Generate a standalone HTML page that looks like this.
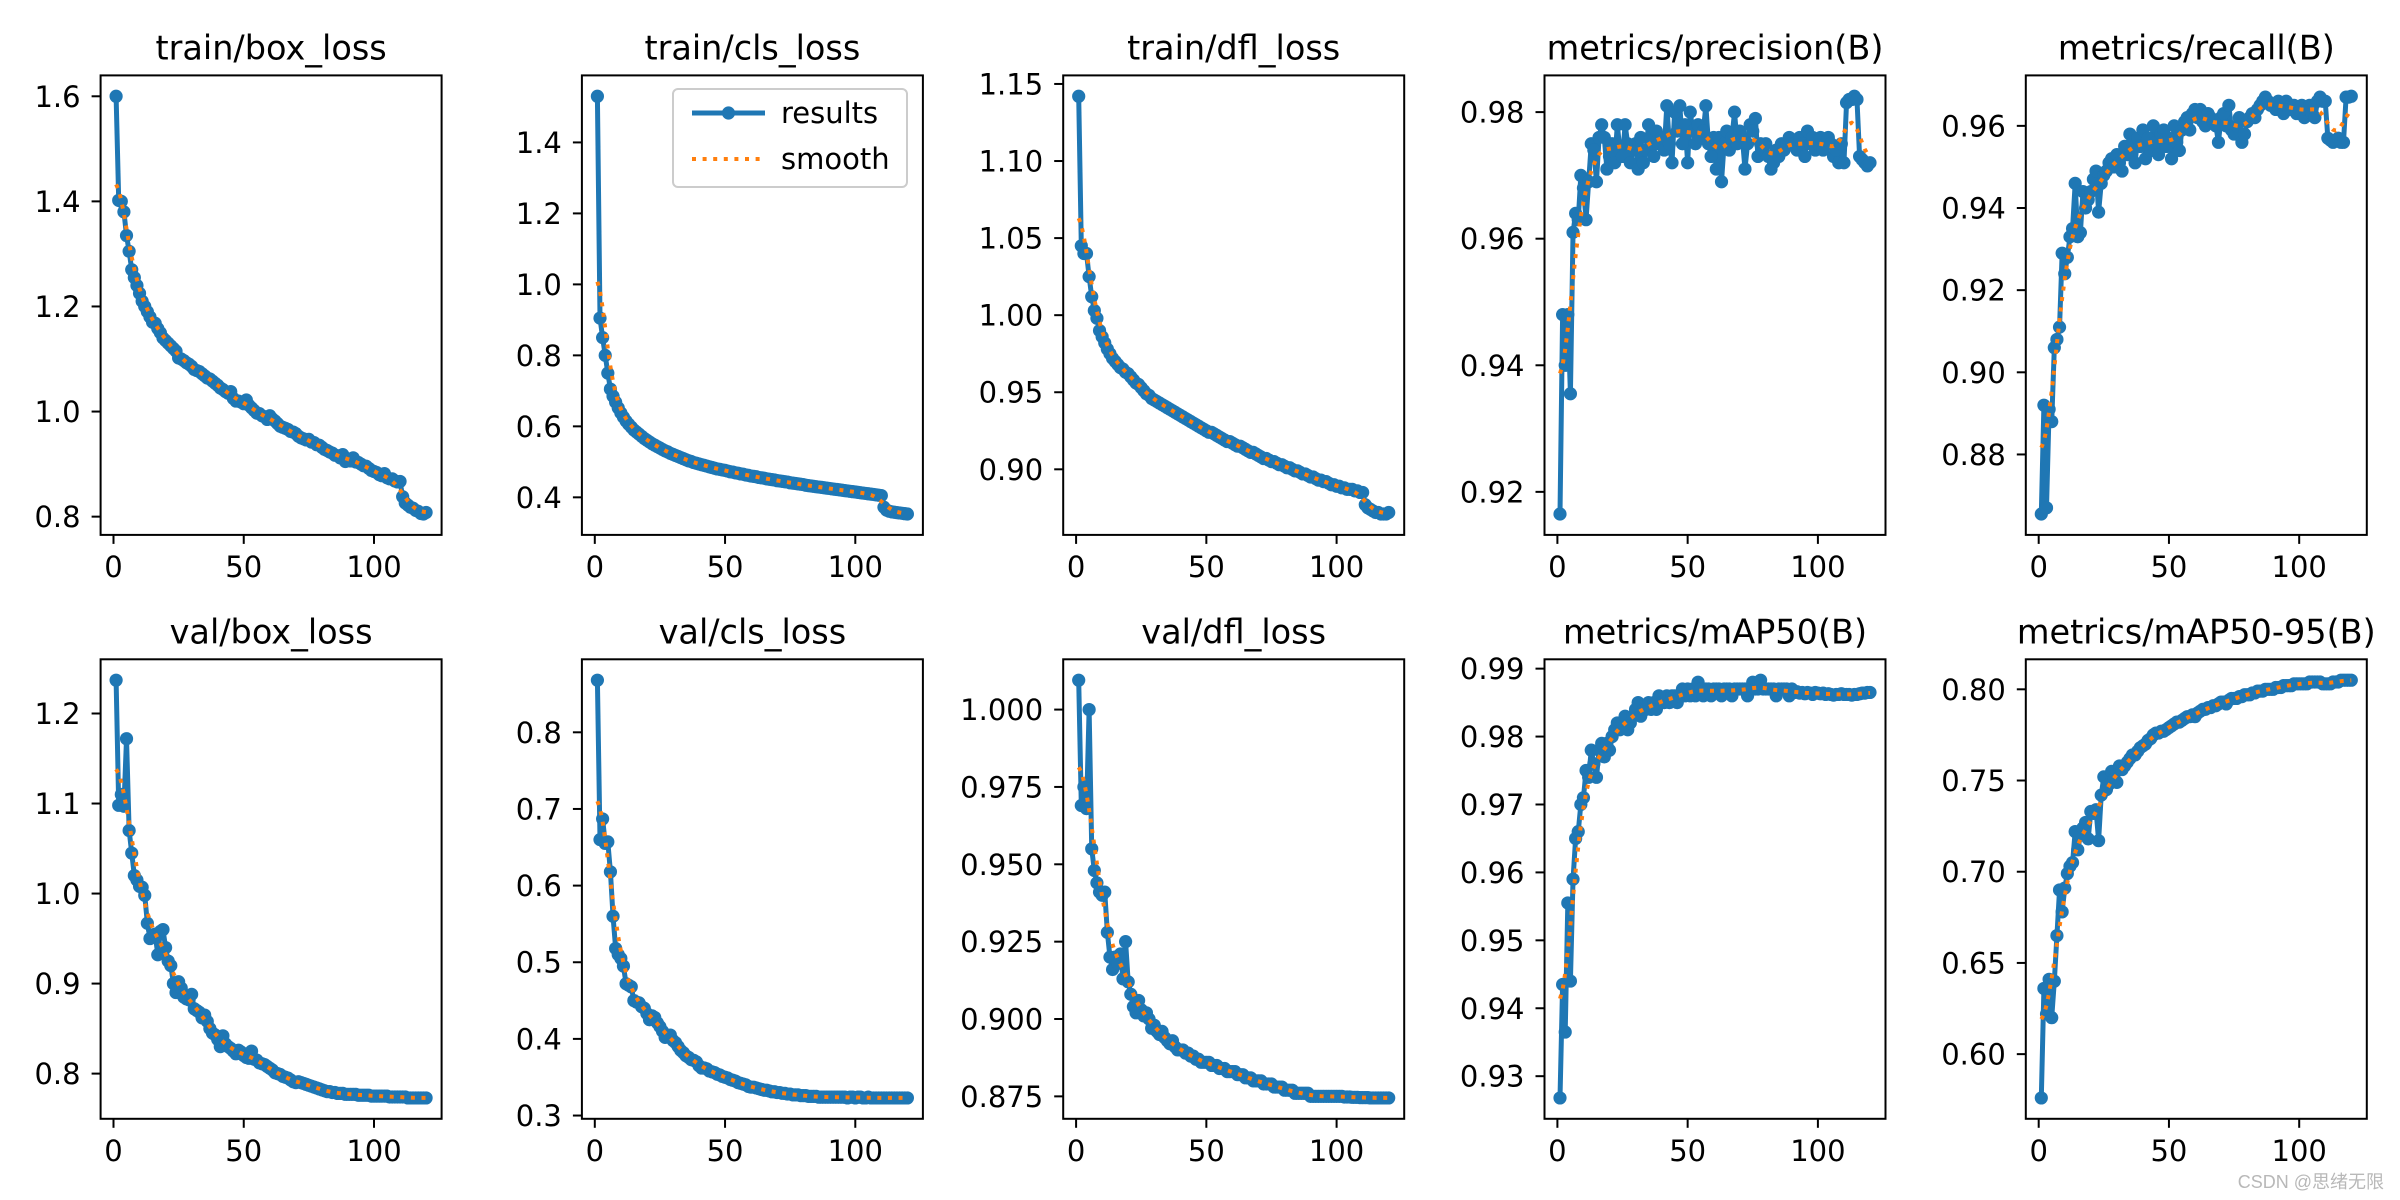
<!DOCTYPE html>
<html><head><meta charset="utf-8"><style>
html,body{margin:0;padding:0;background:#fff;}
svg{display:block;}
text{font-family:"DejaVu Sans","Liberation Sans",sans-serif;fill:#000;}
</style></head><body>
<svg id="fig" width="2400" height="1200" viewBox="0 0 2400 1200" xmlns="http://www.w3.org/2000/svg">
<rect width="2400" height="1200" fill="#fff"/>
<text x="2384" y="1188" text-anchor="end" style="font-family:'Liberation Sans','Noto Sans CJK SC',sans-serif;font-size:18px;fill:#b8b8b8">CSDN @思绪无限</text>
</svg>
<script>
const titles = ["train/box_loss","train/cls_loss","train/dfl_loss","metrics/precision(B)","metrics/recall(B)","val/box_loss","val/cls_loss","val/dfl_loss","metrics/mAP50(B)","metrics/mAP50-95(B)"];
const xTicks = [0,50,100];
const yTicks0 = [0.8,1.0,1.2,1.4,1.6];
const yTicks1 = [0.4,0.6,0.8,1.0,1.2,1.4];
const yTicks2 = [0.90,0.95,1.00,1.05,1.10,1.15];
const yTicks3 = [0.92,0.94,0.96,0.98];
const yTicks4 = [0.88,0.90,0.92,0.94,0.96];
const yTicks5 = [0.8,0.9,1.0,1.1,1.2];
const yTicks6 = [0.3,0.4,0.5,0.6,0.7,0.8];
const yTicks7 = [0.875,0.900,0.925,0.950,0.975,1.000];
const yTicks8 = [0.93,0.94,0.95,0.96,0.97,0.98,0.99];
const yTicks9 = [0.60,0.65,0.70,0.75,0.80];
const yDecimals = [1,1,2,2,2,1,1,3,2,2];

const trainBox = [1.600,1.402,1.400,1.380,1.335,1.305,1.270,1.255,1.240,1.225,
1.210,1.200,1.190,1.180,1.170,1.168,1.158,1.150,1.140,1.135,
1.130,1.125,1.120,1.115,1.102,1.100,1.097,1.093,1.090,1.086,
1.080,1.078,1.076,1.072,1.068,1.064,1.062,1.058,1.054,1.050,
1.045,1.042,1.038,1.035,1.038,1.025,1.020,1.020,1.018,1.015,
1.022,1.012,1.007,1.002,0.997,0.996,0.992,0.990,0.985,0.992,
0.986,0.982,0.977,0.972,0.970,0.968,0.966,0.962,0.961,0.958,
0.953,0.950,0.948,0.946,0.947,0.942,0.941,0.937,0.936,0.932,
0.928,0.926,0.923,0.921,0.917,0.916,0.912,0.918,0.905,0.910,
0.906,0.912,0.904,0.903,0.900,0.897,0.896,0.892,0.888,0.886,
0.884,0.880,0.878,0.882,0.874,0.872,0.872,0.868,0.866,0.867,
0.838,0.826,0.822,0.818,0.816,0.812,0.810,0.806,0.805,0.808];
const trainCls = [1.530,0.905,0.850,0.800,0.750,0.705,0.685,0.668,0.652,0.638,
0.626,0.615,0.606,0.598,0.590,0.584,0.578,0.572,0.566,0.561,
0.556,0.551,0.547,0.543,0.539,0.535,0.531,0.528,0.524,0.521,
0.518,0.515,0.512,0.509,0.506,0.503,0.501,0.498,0.496,0.494,
0.492,0.490,0.488,0.486,0.484,0.482,0.480,0.479,0.477,0.476,
0.474,0.472,0.471,0.469,0.468,0.466,0.465,0.463,0.462,0.460,
0.459,0.458,0.456,0.455,0.454,0.452,0.451,0.450,0.449,0.447,
0.446,0.445,0.444,0.443,0.441,0.440,0.439,0.438,0.437,0.436,
0.434,0.433,0.432,0.431,0.430,0.429,0.428,0.427,0.426,0.425,
0.424,0.423,0.422,0.421,0.420,0.419,0.418,0.417,0.416,0.415,
0.414,0.413,0.412,0.411,0.410,0.409,0.408,0.407,0.406,0.405,
0.372,0.364,0.361,0.359,0.358,0.357,0.356,0.355,0.354,0.353];
const trainDfl = [1.142,1.045,1.040,1.040,1.025,1.012,1.003,0.998,0.990,0.986,
0.982,0.978,0.975,0.972,0.970,0.968,0.966,0.965,0.963,0.962,
0.960,0.958,0.956,0.955,0.953,0.951,0.949,0.948,0.946,0.945,
0.944,0.943,0.942,0.941,0.940,0.939,0.938,0.937,0.936,0.935,
0.934,0.933,0.932,0.931,0.930,0.929,0.928,0.927,0.926,0.925,
0.924,0.924,0.923,0.922,0.921,0.920,0.919,0.918,0.918,0.917,
0.916,0.915,0.915,0.914,0.913,0.912,0.911,0.911,0.910,0.909,
0.908,0.907,0.907,0.906,0.905,0.905,0.904,0.903,0.903,0.902,
0.901,0.901,0.900,0.899,0.899,0.898,0.897,0.897,0.896,0.895,
0.895,0.894,0.893,0.893,0.892,0.892,0.891,0.890,0.890,0.889,
0.889,0.888,0.888,0.887,0.887,0.887,0.886,0.886,0.885,0.885,
0.877,0.875,0.874,0.873,0.872,0.872,0.871,0.871,0.871,0.872];
const precision = [0.9165,0.948,0.940,0.948,0.9355,0.961,0.964,0.963,0.970,0.968,
0.963,0.969,0.975,0.974,0.969,0.976,0.978,0.976,0.971,0.973,
0.975,0.972,0.978,0.974,0.973,0.978,0.975,0.972,0.974,0.975,
0.971,0.976,0.972,0.974,0.978,0.976,0.973,0.977,0.975,0.976,
0.974,0.981,0.975,0.972,0.980,0.977,0.981,0.975,0.978,0.972,
0.980,0.977,0.975,0.978,0.976,0.977,0.981,0.975,0.973,0.976,
0.971,0.976,0.969,0.975,0.977,0.974,0.976,0.980,0.975,0.977,
0.976,0.971,0.975,0.978,0.977,0.979,0.973,0.975,0.974,0.975,
0.973,0.971,0.972,0.974,0.973,0.975,0.974,0.975,0.976,0.975,
0.975,0.974,0.976,0.975,0.973,0.977,0.975,0.976,0.974,0.975,
0.976,0.974,0.975,0.976,0.975,0.973,0.974,0.972,0.975,0.972,
0.9815,0.982,0.982,0.9825,0.982,0.973,0.9725,0.972,0.9715,0.972];
const recall = [0.8655,0.892,0.867,0.891,0.888,0.906,0.908,0.911,0.929,0.924,
0.928,0.933,0.935,0.946,0.933,0.934,0.944,0.940,0.942,0.944,
0.947,0.949,0.939,0.946,0.948,0.949,0.951,0.952,0.950,0.953,
0.951,0.949,0.955,0.953,0.958,0.956,0.951,0.957,0.955,0.959,
0.952,0.957,0.954,0.960,0.956,0.953,0.958,0.959,0.955,0.957,
0.952,0.960,0.956,0.954,0.959,0.961,0.962,0.959,0.963,0.964,
0.962,0.964,0.961,0.960,0.963,0.962,0.961,0.960,0.956,0.962,
0.963,0.960,0.965,0.959,0.958,0.960,0.962,0.956,0.958,0.961,
0.962,0.963,0.962,0.964,0.965,0.966,0.967,0.966,0.965,0.965,
0.964,0.966,0.965,0.963,0.966,0.964,0.965,0.965,0.963,0.964,
0.965,0.962,0.964,0.965,0.963,0.962,0.966,0.967,0.966,0.966,
0.957,0.9565,0.956,0.9565,0.957,0.956,0.956,0.967,0.967,0.9672];
const valBox = [1.237,1.098,1.110,1.097,1.172,1.070,1.045,1.020,1.015,1.008,
1.007,0.998,0.967,0.950,0.953,0.955,0.932,0.958,0.960,0.940,
0.925,0.920,0.900,0.890,0.902,0.895,0.885,0.883,0.882,0.888,
0.872,0.870,0.868,0.862,0.865,0.858,0.850,0.845,0.843,0.838,
0.830,0.842,0.833,0.830,0.828,0.825,0.822,0.826,0.824,0.820,
0.818,0.817,0.825,0.816,0.815,0.812,0.811,0.810,0.808,0.806,
0.804,0.801,0.800,0.799,0.797,0.796,0.795,0.793,0.791,0.790,
0.791,0.790,0.789,0.788,0.787,0.786,0.785,0.784,0.783,0.782,
0.781,0.780,0.780,0.779,0.779,0.778,0.778,0.778,0.777,0.777,
0.777,0.777,0.777,0.776,0.776,0.776,0.776,0.776,0.775,0.775,
0.775,0.775,0.775,0.775,0.775,0.774,0.774,0.774,0.774,0.774,
0.774,0.774,0.773,0.773,0.773,0.773,0.773,0.773,0.773,0.773];
const valCls = [0.868,0.660,0.687,0.655,0.657,0.618,0.560,0.518,0.510,0.505,
0.495,0.472,0.470,0.468,0.450,0.448,0.447,0.442,0.440,0.433,
0.425,0.430,0.428,0.421,0.416,0.410,0.402,0.404,0.405,0.398,
0.395,0.390,0.385,0.382,0.378,0.376,0.373,0.372,0.370,0.365,
0.362,0.362,0.361,0.358,0.357,0.356,0.354,0.353,0.351,0.350,
0.349,0.347,0.346,0.345,0.343,0.342,0.341,0.340,0.338,0.337,
0.337,0.336,0.335,0.334,0.333,0.333,0.332,0.331,0.331,0.330,
0.330,0.329,0.329,0.328,0.328,0.327,0.327,0.327,0.326,0.326,
0.326,0.325,0.325,0.325,0.325,0.324,0.324,0.324,0.324,0.324,
0.324,0.324,0.324,0.324,0.324,0.324,0.323,0.324,0.324,0.323,
0.324,0.324,0.323,0.323,0.324,0.323,0.323,0.323,0.323,0.323,
0.323,0.323,0.323,0.323,0.323,0.323,0.323,0.323,0.323,0.323];
const valDfl = [1.0095,0.969,0.975,0.968,1.000,0.955,0.948,0.944,0.941,0.940,
0.941,0.928,0.920,0.916,0.920,0.918,0.921,0.913,0.925,0.912,
0.908,0.904,0.902,0.906,0.903,0.901,0.902,0.900,0.897,0.898,
0.896,0.895,0.896,0.894,0.893,0.892,0.893,0.891,0.890,0.890,
0.890,0.889,0.889,0.888,0.888,0.887,0.887,0.886,0.886,0.886,
0.886,0.885,0.885,0.885,0.884,0.884,0.884,0.883,0.883,0.883,
0.883,0.882,0.882,0.882,0.881,0.881,0.881,0.880,0.880,0.880,
0.880,0.879,0.879,0.879,0.879,0.878,0.878,0.878,0.878,0.877,
0.877,0.877,0.877,0.876,0.876,0.876,0.876,0.876,0.876,0.875,
0.875,0.875,0.875,0.875,0.875,0.875,0.875,0.875,0.875,0.875,
0.875,0.875,0.8748,0.8748,0.8748,0.8747,0.8747,0.8747,0.8746,0.8746,
0.8746,0.8746,0.8745,0.8745,0.8745,0.8745,0.8745,0.8745,0.8745,0.8745];
const map50 = [0.9268,0.9435,0.9365,0.9555,0.944,0.959,0.965,0.966,0.970,0.971,
0.975,0.974,0.978,0.976,0.974,0.978,0.979,0.977,0.979,0.978,
0.980,0.981,0.982,0.981,0.982,0.983,0.981,0.982,0.983,0.984,
0.985,0.983,0.984,0.984,0.985,0.984,0.985,0.984,0.986,0.985,
0.985,0.986,0.985,0.986,0.986,0.985,0.986,0.987,0.986,0.987,
0.986,0.987,0.986,0.988,0.987,0.986,0.987,0.987,0.986,0.987,
0.987,0.987,0.986,0.987,0.987,0.987,0.986,0.987,0.987,0.987,
0.987,0.987,0.986,0.987,0.988,0.987,0.987,0.9883,0.987,0.987,
0.987,0.987,0.987,0.986,0.987,0.987,0.987,0.987,0.986,0.987,
0.9865,0.9866,0.9864,0.9865,0.9863,0.9865,0.9864,0.9862,0.9865,0.9864,
0.9863,0.9864,0.9862,0.9863,0.9862,0.9861,0.9862,0.9862,0.9863,0.9862,
0.9862,0.9862,0.9861,0.9862,0.9862,0.9863,0.9864,0.9864,0.9865,0.9865];
const map5095 = [0.576,0.636,0.622,0.641,0.620,0.640,0.665,0.690,0.678,0.691,
0.699,0.703,0.705,0.722,0.712,0.720,0.724,0.727,0.718,0.733,
0.732,0.734,0.717,0.742,0.752,0.745,0.748,0.755,0.751,0.749,
0.758,0.756,0.758,0.760,0.762,0.764,0.764,0.766,0.768,0.769,
0.770,0.772,0.773,0.775,0.776,0.776,0.777,0.777,0.778,0.779,
0.780,0.781,0.782,0.782,0.783,0.784,0.785,0.785,0.786,0.785,
0.787,0.788,0.789,0.789,0.790,0.790,0.791,0.791,0.792,0.793,
0.793,0.792,0.794,0.795,0.795,0.795,0.796,0.796,0.797,0.797,
0.797,0.798,0.798,0.799,0.799,0.799,0.800,0.800,0.800,0.800,
0.801,0.801,0.801,0.802,0.802,0.802,0.802,0.803,0.803,0.803,
0.803,0.803,0.803,0.804,0.804,0.804,0.804,0.804,0.803,0.803,
0.803,0.803,0.804,0.804,0.804,0.805,0.805,0.805,0.805,0.805];

const seriesList = [trainBox,trainCls,trainDfl,precision,recall,valBox,valCls,valDfl,map50,map5095];
const tickList = [yTicks0,yTicks1,yTicks2,yTicks3,yTicks4,yTicks5,yTicks6,yTicks7,yTicks8,yTicks9];

const NS = "http://www.w3.org/2000/svg";
const svg = document.getElementById("fig");
function mk(tag, attrs, parent){
  const e = document.createElementNS(NS, tag);
  for (const k in attrs) e.setAttribute(k, attrs[k]);
  (parent||svg).appendChild(e);
  return e;
}
function gaussSmooth(y, sigma){
  const r = Math.round(4*sigma), w = [];
  let s = 0;
  for (let k=-r;k<=r;k++){ const v=Math.exp(-k*k/(2*sigma*sigma)); w.push(v); s+=v; }
  const n = y.length, out = [];
  for (let i=0;i<n;i++){
    let acc=0;
    for (let k=-r;k<=r;k++){
      let j=i+k;
      while (j<0 || j>=n){ if (j<0) j=-j-1; if (j>=n) j=2*n-j-1; }
      acc += w[k+r]*y[j];
    }
    out.push(acc/s);
  }
  return out;
}

const PW = 341, PH = 459.5, COLSTEP = 481.3, ROWTOP = [75.4, 659.3], LEFT0 = 100.6;
const MR = 6.6, LW = 5;
for (let p=0;p<10;p++){
  const data = seriesList[p];
  const n = data.length;
  const col = p%5, row = Math.floor(p/5);
  const L = LEFT0 + col*COLSTEP, T = ROWTOP[row];
  const g = mk("g", {});
  
  
  const xmin = 1, xmax = n, xpad = 0.05*(xmax-xmin);
  const ymin = Math.min(...data), ymax = Math.max(...data), ypad = 0.05*(ymax-ymin);
  const sx = v => L + (v-(xmin-xpad))/((xmax+xpad)-(xmin-xpad))*PW;
  const sy = v => T + PH - (v-(ymin-ypad))/((ymax+ypad)-(ymin-ypad))*PH;

  const title = mk("text", {x:L+PW/2, y:T-16, "text-anchor":"middle", "font-size":"33.5"}, g);
  title.textContent = titles[p];
  
  

  for (const t of xTicks){
    const x = sx(t);
    mk("line",{x1:x,x2:x,y1:T+PH,y2:T+PH+9,stroke:"#000","stroke-width":2},g);
    const tx = mk("text",{x:x,y:T+PH+42,"text-anchor":"middle","font-size":"29"},g);
    tx.textContent = String(t);
    
    
  }
  for (const t of tickList[p]){
    const y = sy(t);
    if (y < T-1 || y > T+PH+1) continue;
    mk("line",{x1:L-9,x2:L,y1:y,y2:y,stroke:"#000","stroke-width":2},g);
    const ty = mk("text",{x:L-20,y:y+10.5,"text-anchor":"end","font-size":"29"},g);
    ty.textContent = t.toFixed(yDecimals[p]);
    
    
  }
  const clipId = "clip"+p;
  const cp = mk("clipPath",{id:clipId},g);
  mk("rect",{x:L,y:T,width:PW,height:PH},cp);

  let d = "";
  for (let i=0;i<n;i++) d += (i?"L":"M")+sx(i+1).toFixed(2)+","+sy(data[i]).toFixed(2);
  const line = mk("path",{d:d,fill:"none",stroke:"#1f77b4","stroke-width":LW,"stroke-linejoin":"round","clip-path":"url(#"+clipId+")"},g);
  
  
  for (let i=0;i<n;i++){
    const c = mk("circle",{cx:sx(i+1),cy:sy(data[i]),r:MR,fill:"#1f77b4"},g);
    
    
  }
  const sm = gaussSmooth(data, 3);
  let ds = "";
  for (let i=0;i<n;i++) ds += (i?"L":"M")+sx(i+1).toFixed(2)+","+sy(sm[i]).toFixed(2);
  const sl = mk("path",{d:ds,fill:"none",stroke:"#ff7f0e","stroke-width":4,"stroke-dasharray":"4 6.6"},g);
  
  

  const fr = mk("rect",{x:L,y:T,width:PW,height:PH,fill:"none",stroke:"#000","stroke-width":2},g);
  
  

  if (p===1){
    const lg = mk("g",{},g);
    
    
    mk("rect",{x:673,y:89,width:234,height:98,rx:5,fill:"#fff","fill-opacity":0.8,stroke:"#ccc","stroke-width":2},lg);
    mk("line",{x1:692,x2:765,y1:113,y2:113,stroke:"#1f77b4","stroke-width":LW},lg);
    mk("circle",{cx:728.5,cy:113,r:MR,fill:"#1f77b4"},lg);
    const t1 = mk("text",{x:781,y:123,"font-size":"29"},lg);
    t1.textContent = "results";
    
    
    mk("line",{x1:692,x2:765,y1:159,y2:159,stroke:"#ff7f0e","stroke-width":4,"stroke-dasharray":"4 6.6"},lg);
    const t2 = mk("text",{x:781,y:169,"font-size":"29"},lg);
    t2.textContent = "smooth";
    
    
  }
}
</script>
</body></html>
